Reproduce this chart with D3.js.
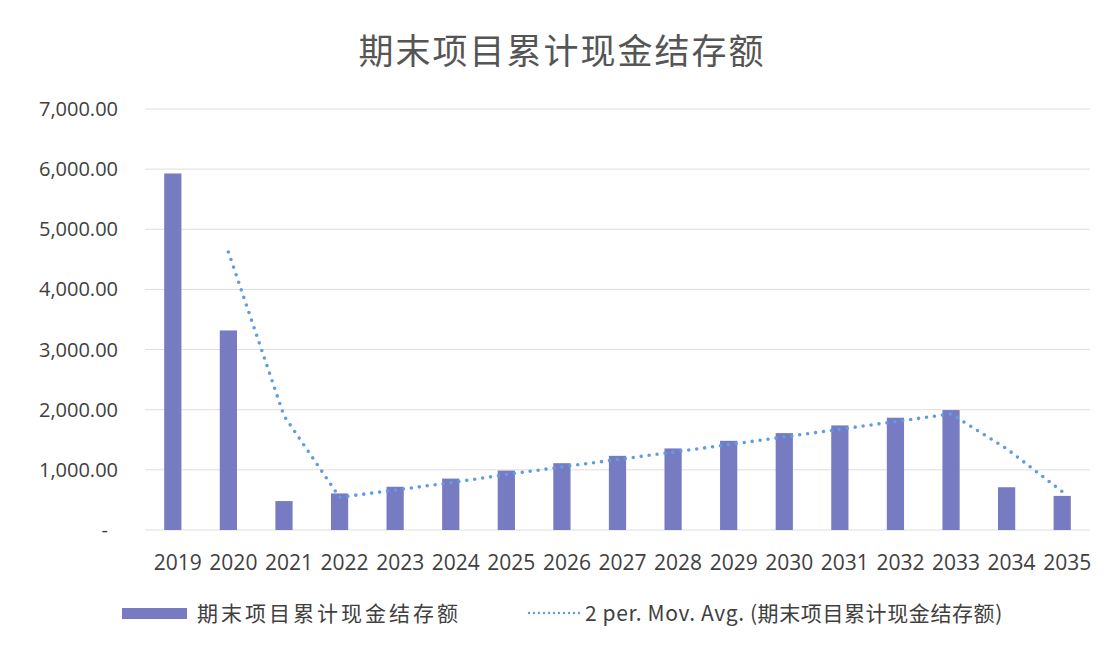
<!DOCTYPE html>
<html>
<head>
<meta charset="utf-8">
<script src="https://cdn.jsdelivr.net/npm/d3@7"></script>
<style>
  body { margin: 0; background: #fff; }
  text { font-family: "Noto Sans CJK SC", "Noto Sans", sans-serif; fill: #404040; }
</style>
</head>
<body>
<svg width="1112" height="650"></svg>
<script>
// data
var years = ["2019","2020","2021","2022","2023","2024","2025","2026","2027","2028","2029","2030","2031","2032","2033","2034","2035"];
var balance = [5928, 3318, 481, 608, 719, 855, 988, 1111, 1233, 1356, 1483, 1611, 1739, 1867, 1994, 711, 567];
var yTicks = [0, 1000, 2000, 3000, 4000, 5000, 6000, 7000];
var title = "期末项目累计现金结存额";
var seriesName = "期末项目累计现金结存额";
var trendName = "2 per. Mov. Avg. (期末项目累计现金结存额)";

var svg = d3.select("svg"),
    width = +svg.attr("width"),
    height = +svg.attr("height");

var plotLeft = 145, plotRight = 1090, plotTop = 109, plotBottom = 530;

var x = d3.scaleBand().domain(years).range([plotLeft, plotRight]).paddingInner(0.69).paddingOuter(0.345);
var y = d3.scaleLinear().domain([0, 7000]).range([plotBottom, plotTop]);

// title
svg.append("text")
    .attr("x", 562).attr("y", 64)
    .attr("text-anchor", "middle")
    .style("font-size", "35px")
    .style("letter-spacing", "2px")
    .style("fill", "#555")
    .text(title);

// gridlines
svg.append("g").selectAll("line")
    .data(yTicks)
    .enter().append("line")
    .attr("x1", plotLeft).attr("x2", plotRight)
    .attr("y1", function(d) { return y(d); })
    .attr("y2", function(d) { return y(d); })
    .style("stroke", "#dedede")
    .style("stroke-width", 1);

// y axis labels
var fmt = d3.format(",.2f");
svg.append("g").selectAll("text")
    .data(yTicks)
    .enter().append("text")
    .attr("x", function(d) { return d === 0 ? 108 : 118; })
    .attr("y", function(d) { return y(d) + 7; })
    .attr("text-anchor", "end")
    .style("font-family", "'Open Sans', sans-serif")
    .style("font-size", "20px")
    .text(function(d) { return d === 0 ? "-" : fmt(d); });

// x axis labels
svg.append("g").selectAll("text")
    .data(years)
    .enter().append("text")
    .attr("x", function(d) { return x(d) + x.bandwidth() / 2 + 5; })
    .attr("y", 570)
    .attr("text-anchor", "middle")
    .style("font-family", "'Open Sans', sans-serif")
    .style("font-size", "21px")
    .text(function(d) { return d; });

// bars
svg.append("g").selectAll("rect")
    .data(balance)
    .enter().append("rect")
    .attr("x", function(d, i) { return x(years[i]); })
    .attr("y", function(d) { return y(d); })
    .attr("width", x.bandwidth())
    .attr("height", function(d) { return plotBottom - y(d); })
    .style("fill", "#777bc2");

// 2 period moving average
var avg = balance.slice(1).map(function(v, i) {
    return { year: years[i + 1], value: (v + balance[i]) / 2 };
});
var line = d3.line()
    .x(function(d) { return x(d.year) + x.bandwidth() / 2; })
    .y(function(d) { return y(d.value); });

svg.append("path")
    .datum(avg)
    .attr("d", line)
    .style("fill", "none")
    .style("stroke", "#5f9de0")
    .style("stroke-width", 3.6)
    .style("stroke-linecap", "round")
    .style("stroke-dasharray", "0 8");

// legend
var lg = svg.append("g");
lg.append("rect")
    .attr("x", 122).attr("y", 608)
    .attr("width", 65).attr("height", 11)
    .style("fill", "#777bc2");
lg.append("text")
    .attr("x", 197).attr("y", 621)
    .style("font-size", "21px")
    .style("letter-spacing", "3px")
    .text(seriesName);
lg.append("line")
    .attr("x1", 529).attr("x2", 580)
    .attr("y1", 613).attr("y2", 613)
    .style("stroke", "#5f9de0")
    .style("stroke-width", 2.4)
    .style("stroke-linecap", "round")
    .style("stroke-dasharray", "0 5");
lg.append("text")
    .attr("x", 585).attr("y", 621)
    .style("font-size", "21px")
    .style("letter-spacing", "0.6px")
    .text(trendName);
</script>
</body>
</html>
